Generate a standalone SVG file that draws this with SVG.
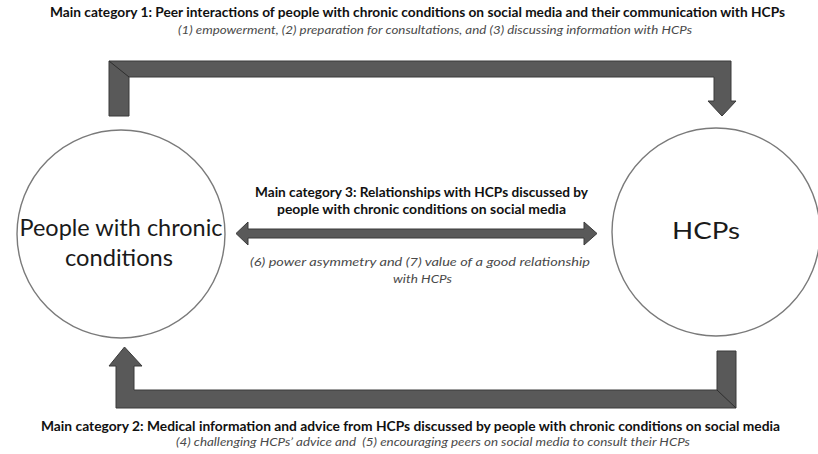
<svg xmlns="http://www.w3.org/2000/svg" width="818" height="454" viewBox="0 0 818 454">
  <style>
    .bg { fill: #ffffff; }
    .actor { fill: #ffffff; stroke: #7a7a7a; stroke-width: 1.4; }
    .actor-label { font-family: Lato, "Liberation Sans", sans-serif; font-size: 23px; fill: #1a1a1a; text-anchor: middle; }
    .flow { fill: #595959; stroke: #3a3a3a; stroke-width: 1; stroke-linejoin: miter; }
    .crease { stroke: #2e2e2e; stroke-width: 1; fill: none; }
    .cat { font-family: Lato, "Liberation Sans", sans-serif; font-weight: bold; font-size: 12.5px; fill: #111111; }
    .sub { font-family: Lato, "Liberation Sans", sans-serif; font-style: italic; font-size: 12px; fill: #4a4a4a; }
  </style>
  <rect class="bg" x="0" y="0" width="818" height="454"/>

  <!-- Actors -->
  <g id="people">
    <circle class="actor" cx="121" cy="234" r="104"/>
    <text class="actor-label" x="121" y="236" textLength="203" lengthAdjust="spacingAndGlyphs">People with chronic</text>
    <text class="actor-label" x="119" y="266" textLength="108" lengthAdjust="spacingAndGlyphs">conditions</text>
  </g>
  <g id="hcps">
    <circle class="actor" cx="716" cy="232" r="104"/>
    <text class="actor-label" x="706" y="239" textLength="68" lengthAdjust="spacingAndGlyphs">HCPs</text>
  </g>

  <!-- Connectors -->
  <g id="connectors">
    <!-- category 1: people -> HCPs, over the top -->
    <path class="flow" d="M109,116 L109,61 L731,61 L731,101 L736,101 L722,116 L708,101 L714,101 L714,77 L129,77 L129,116 Z"/>
    <line class="crease" x1="109" y1="61" x2="129" y2="77"/>
    <!-- category 2: HCPs -> people, along the bottom -->
    <path class="flow" d="M736,351 L736,408 L116,408 L116,366 L109,366 L124.5,347 L142,366 L134,366 L134,390 L717,390 L717,351 Z"/>
    <line class="crease" x1="717" y1="390" x2="736" y2="408"/>
    <!-- category 3: two-way relationship -->
    <path class="flow" d="M236,233.5 L248,222 L248,229 L584,229 L584,222 L597,233.5 L584,245 L584,238 L248,238 L248,245 Z"/>
  </g>

  <!-- Category captions -->
  <g id="category-1">
    <text class="cat" x="50" y="17" textLength="735" lengthAdjust="spacingAndGlyphs">Main category 1: Peer interactions of people with chronic conditions on social media and their communication with HCPs</text>
    <text class="sub" x="178" y="34" textLength="514" lengthAdjust="spacingAndGlyphs">(1) empowerment, (2) preparation for consultations, and (3) discussing information with HCPs</text>
  </g>
  <g id="category-3">
    <text class="cat" x="255" y="197" textLength="333" lengthAdjust="spacingAndGlyphs">Main category 3: Relationships with HCPs discussed by</text>
    <text class="cat" x="277" y="214" textLength="289" lengthAdjust="spacingAndGlyphs">people with chronic conditions on social media</text>
    <text class="sub" x="250" y="266" textLength="340" lengthAdjust="spacingAndGlyphs">(6) power asymmetry and (7) value of a good relationship</text>
    <text class="sub" x="393" y="283" textLength="59" lengthAdjust="spacingAndGlyphs">with HCPs</text>
  </g>
  <g id="category-2">
    <text class="cat" x="41" y="431" textLength="739" lengthAdjust="spacingAndGlyphs">Main category 2: Medical information and advice from HCPs discussed by people with chronic conditions on social media</text>
    <text class="sub" x="176" y="446" textLength="514" lengthAdjust="spacingAndGlyphs" xml:space="preserve">(4) challenging HCPs’ advice and  (5) encouraging peers on social media to consult their HCPs</text>
  </g>
</svg>
